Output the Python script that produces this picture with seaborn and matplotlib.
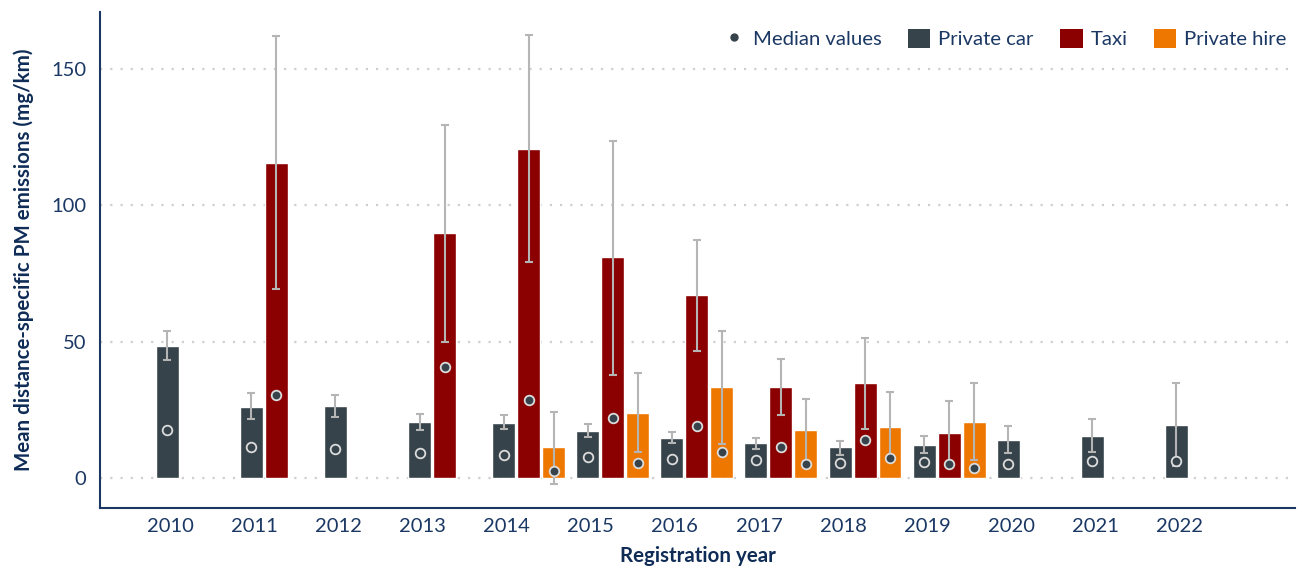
import matplotlib
matplotlib.use("Agg")
import matplotlib.pyplot as plt
import numpy as np
import pandas as pd
import seaborn as sns
from matplotlib.lines import Line2D
from matplotlib.patches import Patch

# ---------------- data ----------------
years = [str(y) for y in range(2010, 2023)]

car_years = years
car_mean = [48.5, 26.2, 26.5, 20.7, 20.3, 17.4, 14.8, 12.7, 11.2, 12.3, 14.1, 15.6, 19.6]
car_lo = [43.3, 21.5, 22.5, 17.8, 17.9, 15.0, 12.9, 10.8, 8.4, 9.3, 9.2, 9.6, 4.3]
car_hi = [53.8, 31.1, 30.3, 23.6, 23.0, 19.7, 16.8, 14.6, 13.5, 15.4, 19.2, 21.5, 35.0]
car_med = [17.8, 11.2, 10.6, 9.1, 8.6, 7.7, 6.9, 6.7, 5.6, 5.7, 5.1, 6.2, 6.2]

taxi_years = ["2011", "2013", "2014", "2015", "2016", "2017", "2018", "2019"]
taxi_mean = [115.6, 89.8, 120.9, 81.0, 67.1, 33.5, 34.9, 16.7]
taxi_lo = [69.3, 50.0, 79.3, 37.8, 46.7, 23.2, 18.0, 5.0]
taxi_hi = [162.2, 129.4, 162.4, 123.8, 87.3, 43.7, 51.5, 28.2]
taxi_med = [30.4, 40.9, 28.5, 22.1, 19.2, 11.2, 13.9, 5.0]

hire_years = ["2014", "2015", "2016", "2017", "2018", "2019"]
hire_mean = [11.2, 24.0, 33.5, 17.8, 18.9, 20.7]
hire_lo = [-2.2, 9.6, 12.4, 6.3, 6.3, 6.6]
hire_hi = [24.1, 38.4, 54.0, 29.0, 31.5, 34.7]
hire_med = [2.6, 5.4, 9.4, 5.0, 7.2, 3.5]

types = ["Private car", "Taxi", "Private hire"]
colors = {"Private car": "#36434b", "Taxi": "#8b0000", "Private hire": "#ee7700"}

frames = []
for t, yrs, m, lo, hi, med in [
    ("Private car", car_years, car_mean, car_lo, car_hi, car_med),
    ("Taxi", taxi_years, taxi_mean, taxi_lo, taxi_hi, taxi_med),
    ("Private hire", hire_years, hire_mean, hire_lo, hire_hi, hire_med),
]:
    frames.append(pd.DataFrame({"year": yrs, "type": t, "mean": m,
                                "lo": lo, "hi": hi, "median": med}))
df = pd.concat(frames, ignore_index=True)

# ---------------- style ----------------
navy = "#1b3864"
navy_dark = "#0f2c57"
sns.set_theme(style="white")
plt.rcParams["font.family"] = ["Lato", "DejaVu Sans"]

fig = plt.figure(figsize=(13.08, 5.7), dpi=100)
ax = fig.add_axes([100 / 1308, 62 / 570, 1195 / 1308, 496 / 570])

# two empty hue slots on the left so that the first real series sits on the tick
hue_order = ["_pad1", "_pad2"] + types
palette = {"_pad1": "white", "_pad2": "white", **colors}
slot = 0.297
n_slots = len(hue_order)
sns.barplot(data=df, x="year", y="mean", hue="type", order=years,
            hue_order=hue_order, palette=palette, dodge=True,
            width=slot * n_slots, gap=0.08, errorbar=None, legend=False,
            saturation=1, ax=ax, zorder=2)

# positions of each bar (same dodge rule as seaborn)
year_idx = {y: i for i, y in enumerate(years)}
hue_idx = {h: i for i, h in enumerate(hue_order)}
center = (n_slots - 1) / 2
df["pos"] = [year_idx[y] + (hue_idx[t] - center) * slot for y, t in zip(df["year"], df["type"])]

ax.errorbar(df["pos"], df["mean"], yerr=[df["mean"] - df["lo"], df["hi"] - df["mean"]],
            fmt="none", ecolor="#b5b5b5", elinewidth=1.5, capsize=3, capthick=1.5, zorder=3)
ax.scatter(df["pos"], df["median"], s=48, facecolor="#36434b", edgecolor="#dcdcdc",
           linewidth=1.3, zorder=4)

# grid
for v in [0, 50, 100, 150]:
    ax.axhline(v, color="#cfcfcf", lw=1.6, linestyle=(0, (1, 3.6)), zorder=1)

ax.set_ylim(-11, 171)
ax.set_xlim(-0.80, 13.41)
ax.set_yticks([0, 50, 100, 150])
ax.set_xticks(np.arange(len(years)) + 0.035)
ax.set_xticklabels(years)
ax.tick_params(axis="both", length=0, labelsize=14.5, colors=navy)
ax.tick_params(axis="y", pad=10)
ax.tick_params(axis="x", pad=7)
for s in ["top", "right"]:
    ax.spines[s].set_visible(False)
for s in ["left", "bottom"]:
    ax.spines[s].set_color(navy)
    ax.spines[s].set_linewidth(1.5)

ax.set_xlabel("Registration year", fontsize=14.8, fontweight="bold", color=navy_dark, labelpad=8)
ax.set_ylabel("Mean distance-specific PM emissions (mg/km)", fontsize=14.8,
              fontweight="bold", color=navy_dark, labelpad=12)

handles = [Line2D([0], [0], marker="o", color="none", markerfacecolor="#36434b",
                  markeredgecolor="#36434b", markersize=5, label="Median values")]
handles += [Patch(facecolor=colors[t], edgecolor="none", label=t) for t in types]
leg = ax.legend(handles=handles, loc="upper right", ncol=4, frameon=False,
                fontsize=14.6, handlelength=1.1, handleheight=1.1, handletextpad=0.4,
                columnspacing=1.3, bbox_to_anchor=(1.005, 0.995), borderaxespad=0.3)
for txt in leg.get_texts():
    txt.set_color(navy)

fig.savefig("out.png", dpi=100, facecolor="white")
